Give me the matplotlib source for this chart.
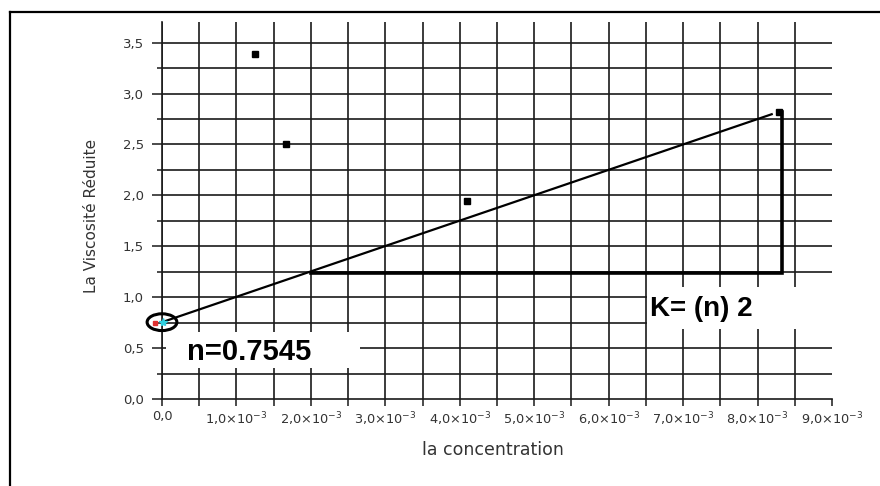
import matplotlib

matplotlib.use("Agg")

import matplotlib.pyplot as plt
from matplotlib.lines import Line2D
from matplotlib.patches import Ellipse, Rectangle

# measured points (concentration, reduced viscosity)
conc = [1.25e-3, 1.66e-3, 4.10e-3, 8.29e-3]
visc = [3.39, 2.50, 1.945, 2.815]

# fitted line drawn on the chart
fit_x = [0.0, 8.19e-3]
fit_y = [0.7545, 2.797]

# slope triangle
tri_x = [2.0e-3, 8.33e-3, 8.33e-3]
tri_y = [1.24, 1.24, 2.82]

x_major = [i * 1e-3 for i in range(10)]
x_minor = [i * 0.5e-3 for i in range(19)]
x_labels = ["0,0"] + [f"{i},0×10$^{{-3}}$" for i in range(1, 10)]
y_major = [0.0, 0.5, 1.0, 1.5, 2.0, 2.5, 3.0, 3.5]
y_labels = ["0,0", "0,5", "1,0", "1,5", "2,0", "2,5", "3,0", "3,5"]
y_minor = [0.25 * i for i in range(15)]

grid_x = x_minor[:-1]       # no vertical line at 9e-3
grid_y = y_minor[1:]        # no horizontal line at 0 (that is the axis)

fig = plt.figure(figsize=(8.8, 4.86), dpi=100)
ax = fig.add_axes([162 / 880, 87 / 486, 670 / 880, 376.7 / 486])
ax.set_xlim(0, 9e-3)
ax.set_ylim(0, 3.7)
ax.set_facecolor("white")

for side in ["top", "right"]:
    ax.spines[side].set_visible(False)
for side in ["left", "bottom"]:
    ax.spines[side].set_color("#1a1a1a")
    ax.spines[side].set_linewidth(1.2)

ax.vlines(grid_x, 0, 3.7, color="#1a1a1a", linewidth=1.2, zorder=1)
ax.hlines(grid_y, 0, 9e-3, color="#1a1a1a", linewidth=1.2, zorder=1)

ax.set_xticks(x_major)
ax.set_xticklabels(x_labels)
ax.set_xticks(x_minor, minor=True)
ax.set_yticks(y_major)
ax.set_yticklabels(y_labels)
ax.set_yticks(y_minor, minor=True)
ax.tick_params(axis="x", which="both", length=5, width=1.1, color="#1a1a1a",
               labelsize=9.3, labelcolor="#333333", pad=3)
ax.tick_params(axis="y", which="major", length=7, width=1.1, color="#1a1a1a",
               labelsize=9.5, labelcolor="#333333", pad=6)
ax.tick_params(axis="y", which="minor", length=3.5, width=1.1, color="#1a1a1a")

# white label boxes that hide the grid
ax.add_patch(Rectangle((0.054e-3, 0.305), 2.61e-3, 0.353, facecolor="white",
                       edgecolor="none", zorder=2))
ax.add_patch(Rectangle((6.52e-3, 0.688), 2.6e-3, 0.41, facecolor="white",
                       edgecolor="none", zorder=2, clip_on=False))

ax.plot(fit_x, fit_y, color="black", linewidth=1.6, zorder=3)
ax.plot(tri_x, tri_y, color="black", linewidth=2.6, zorder=3,
        solid_joinstyle="miter")
ax.plot(conc, visc, linestyle="none", marker="s", markersize=5,
        color="black", zorder=4)

# intercept marker
ax.plot([-0.09e-3], [0.75], marker="s", markersize=3, color="#e03030",
        linestyle="none", zorder=5, clip_on=False)
ax.plot([0.02e-3], [0.7545], marker="*", markersize=6, color="#30d0e0",
        linestyle="none", zorder=5, clip_on=False)
ax.add_patch(Ellipse((0.0, 0.7545), 0.40e-3, 0.165, facecolor="none",
                     edgecolor="black", linewidth=2.2, zorder=6, clip_on=False))

bold_font = ["Liberation Sans", "DejaVu Sans"]
ax.text(0.33e-3, 0.46, "n=0.7545", family=bold_font, fontweight="bold",
        fontsize=21, va="center", ha="left", zorder=7)
ax.text(6.56e-3, 0.88, "K= (n) 2", family=bold_font, fontweight="bold",
        fontsize=20, va="center", ha="left", zorder=7)

fig.text(91 / 880, 1 - 216 / 486, "La Viscosité Réduite", rotation=90,
         ha="center", va="center", fontsize=11, color="#333333")
fig.text(493 / 880, 1 - 450 / 486, "la concentration",
         ha="center", va="center", fontsize=12.5, color="#333333")

# outer frame (left and top edges only)
fig.add_artist(Line2D([10 / 880, 10 / 880], [0, 1 - 12 / 486],
                      color="black", linewidth=1.6))
fig.add_artist(Line2D([10 / 880, 1], [1 - 12 / 486, 1 - 12 / 486],
                      color="black", linewidth=1.6))

fig.savefig("out.png", dpi=100)
plt.close(fig)
